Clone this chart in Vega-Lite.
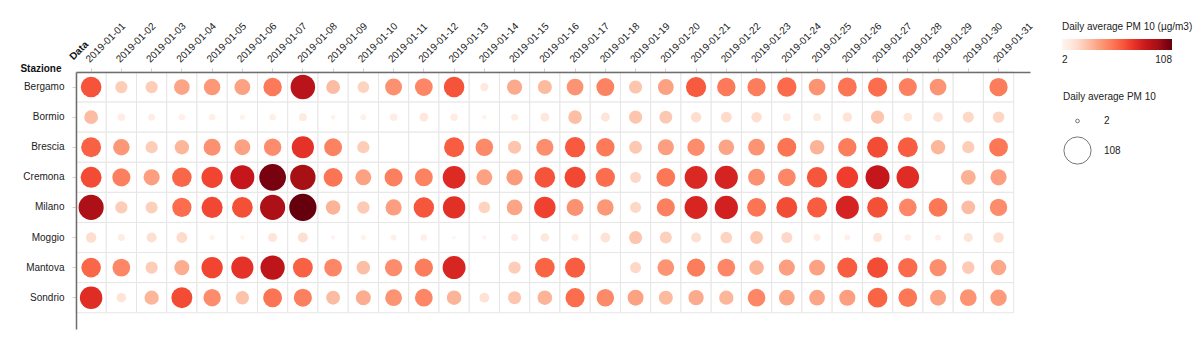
{
  "$schema": "https://vega.github.io/schema/vega-lite/v6.json",
  "autosize": {"type": "none"},
  "width": 954,
  "height": 257,
  "padding": {"left": 76, "top": 72, "right": 170, "bottom": 33},
  "background": "white",
  "config": {
    "font": "Liberation Sans",
    "view": {"stroke": null},
    "axis": {"labelFont": "Liberation Sans", "titleFont": "Liberation Sans", "labelFontSize": 10, "titleFontSize": 10, "labelColor": "#222", "titleColor": "#111"},
    "legend": {"labelFont": "Liberation Sans", "titleFont": "Liberation Sans", "labelFontSize": 10, "titleFontSize": 10, "titleFontWeight": "normal", "labelColor": "#222", "titleColor": "#222"}
  },
  "data": {"values": [
{"s":"Bergamo","d":"2019-01-01","v":62},{"s":"Bergamo","d":"2019-01-02","v":22},{"s":"Bergamo","d":"2019-01-03","v":22},{"s":"Bergamo","d":"2019-01-04","v":36},{"s":"Bergamo","d":"2019-01-05","v":40},{"s":"Bergamo","d":"2019-01-06","v":37},{"s":"Bergamo","d":"2019-01-07","v":50},{"s":"Bergamo","d":"2019-01-08","v":88},{"s":"Bergamo","d":"2019-01-09","v":28},{"s":"Bergamo","d":"2019-01-10","v":20},{"s":"Bergamo","d":"2019-01-11","v":42},{"s":"Bergamo","d":"2019-01-12","v":46},{"s":"Bergamo","d":"2019-01-13","v":62},{"s":"Bergamo","d":"2019-01-14","v":10},{"s":"Bergamo","d":"2019-01-15","v":34},{"s":"Bergamo","d":"2019-01-16","v":29},{"s":"Bergamo","d":"2019-01-17","v":41},{"s":"Bergamo","d":"2019-01-18","v":47},{"s":"Bergamo","d":"2019-01-19","v":25},{"s":"Bergamo","d":"2019-01-20","v":37},{"s":"Bergamo","d":"2019-01-21","v":60},{"s":"Bergamo","d":"2019-01-22","v":50},{"s":"Bergamo","d":"2019-01-23","v":49},{"s":"Bergamo","d":"2019-01-24","v":55},{"s":"Bergamo","d":"2019-01-25","v":41},{"s":"Bergamo","d":"2019-01-26","v":52},{"s":"Bergamo","d":"2019-01-27","v":54},{"s":"Bergamo","d":"2019-01-28","v":48},{"s":"Bergamo","d":"2019-01-29","v":41},{"s":"Bergamo","d":"2019-01-30","v":null},{"s":"Bergamo","d":"2019-01-31","v":49},
{"s":"Bormio","d":"2019-01-01","v":28},{"s":"Bormio","d":"2019-01-02","v":8},{"s":"Bormio","d":"2019-01-03","v":7},{"s":"Bormio","d":"2019-01-04","v":6},{"s":"Bormio","d":"2019-01-05","v":6},{"s":"Bormio","d":"2019-01-06","v":4},{"s":"Bormio","d":"2019-01-07","v":6},{"s":"Bormio","d":"2019-01-08","v":9},{"s":"Bormio","d":"2019-01-09","v":3},{"s":"Bormio","d":"2019-01-10","v":5},{"s":"Bormio","d":"2019-01-11","v":8},{"s":"Bormio","d":"2019-01-12","v":11},{"s":"Bormio","d":"2019-01-13","v":8},{"s":"Bormio","d":"2019-01-14","v":3},{"s":"Bormio","d":"2019-01-15","v":7},{"s":"Bormio","d":"2019-01-16","v":11},{"s":"Bormio","d":"2019-01-17","v":27},{"s":"Bormio","d":"2019-01-18","v":12},{"s":"Bormio","d":"2019-01-19","v":25},{"s":"Bormio","d":"2019-01-20","v":24},{"s":"Bormio","d":"2019-01-21","v":16},{"s":"Bormio","d":"2019-01-22","v":17},{"s":"Bormio","d":"2019-01-23","v":16},{"s":"Bormio","d":"2019-01-24","v":9},{"s":"Bormio","d":"2019-01-25","v":9},{"s":"Bormio","d":"2019-01-26","v":13},{"s":"Bormio","d":"2019-01-27","v":25},{"s":"Bormio","d":"2019-01-28","v":11},{"s":"Bormio","d":"2019-01-29","v":14},{"s":"Bormio","d":"2019-01-30","v":18},{"s":"Bormio","d":"2019-01-31","v":19},
{"s":"Brescia","d":"2019-01-01","v":58},{"s":"Brescia","d":"2019-01-02","v":40},{"s":"Brescia","d":"2019-01-03","v":22},{"s":"Brescia","d":"2019-01-04","v":30},{"s":"Brescia","d":"2019-01-05","v":42},{"s":"Brescia","d":"2019-01-06","v":37},{"s":"Brescia","d":"2019-01-07","v":44},{"s":"Brescia","d":"2019-01-08","v":72},{"s":"Brescia","d":"2019-01-09","v":47},{"s":"Brescia","d":"2019-01-10","v":22},{"s":"Brescia","d":"2019-01-11","v":null},{"s":"Brescia","d":"2019-01-12","v":null},{"s":"Brescia","d":"2019-01-13","v":59},{"s":"Brescia","d":"2019-01-14","v":45},{"s":"Brescia","d":"2019-01-15","v":25},{"s":"Brescia","d":"2019-01-16","v":43},{"s":"Brescia","d":"2019-01-17","v":60},{"s":"Brescia","d":"2019-01-18","v":50},{"s":"Brescia","d":"2019-01-19","v":24},{"s":"Brescia","d":"2019-01-20","v":38},{"s":"Brescia","d":"2019-01-21","v":44},{"s":"Brescia","d":"2019-01-22","v":36},{"s":"Brescia","d":"2019-01-23","v":41},{"s":"Brescia","d":"2019-01-24","v":52},{"s":"Brescia","d":"2019-01-25","v":31},{"s":"Brescia","d":"2019-01-26","v":49},{"s":"Brescia","d":"2019-01-27","v":64},{"s":"Brescia","d":"2019-01-28","v":59},{"s":"Brescia","d":"2019-01-29","v":30},{"s":"Brescia","d":"2019-01-30","v":22},{"s":"Brescia","d":"2019-01-31","v":51},
{"s":"Cremona","d":"2019-01-01","v":64},{"s":"Cremona","d":"2019-01-02","v":48},{"s":"Cremona","d":"2019-01-03","v":38},{"s":"Cremona","d":"2019-01-04","v":56},{"s":"Cremona","d":"2019-01-05","v":66},{"s":"Cremona","d":"2019-01-06","v":84},{"s":"Cremona","d":"2019-01-07","v":104},{"s":"Cremona","d":"2019-01-08","v":94},{"s":"Cremona","d":"2019-01-09","v":52},{"s":"Cremona","d":"2019-01-10","v":37},{"s":"Cremona","d":"2019-01-11","v":48},{"s":"Cremona","d":"2019-01-12","v":47},{"s":"Cremona","d":"2019-01-13","v":75},{"s":"Cremona","d":"2019-01-14","v":37},{"s":"Cremona","d":"2019-01-15","v":39},{"s":"Cremona","d":"2019-01-16","v":62},{"s":"Cremona","d":"2019-01-17","v":65},{"s":"Cremona","d":"2019-01-18","v":54},{"s":"Cremona","d":"2019-01-19","v":18},{"s":"Cremona","d":"2019-01-20","v":51},{"s":"Cremona","d":"2019-01-21","v":76},{"s":"Cremona","d":"2019-01-22","v":78},{"s":"Cremona","d":"2019-01-23","v":42},{"s":"Cremona","d":"2019-01-24","v":46},{"s":"Cremona","d":"2019-01-25","v":61},{"s":"Cremona","d":"2019-01-26","v":68},{"s":"Cremona","d":"2019-01-27","v":84},{"s":"Cremona","d":"2019-01-28","v":74},{"s":"Cremona","d":"2019-01-29","v":null},{"s":"Cremona","d":"2019-01-30","v":32},{"s":"Cremona","d":"2019-01-31","v":38},
{"s":"Milano","d":"2019-01-01","v":92},{"s":"Milano","d":"2019-01-02","v":22},{"s":"Milano","d":"2019-01-03","v":21},{"s":"Milano","d":"2019-01-04","v":54},{"s":"Milano","d":"2019-01-05","v":65},{"s":"Milano","d":"2019-01-06","v":63},{"s":"Milano","d":"2019-01-07","v":92},{"s":"Milano","d":"2019-01-08","v":108},{"s":"Milano","d":"2019-01-09","v":31},{"s":"Milano","d":"2019-01-10","v":23},{"s":"Milano","d":"2019-01-11","v":38},{"s":"Milano","d":"2019-01-12","v":61},{"s":"Milano","d":"2019-01-13","v":73},{"s":"Milano","d":"2019-01-14","v":20},{"s":"Milano","d":"2019-01-15","v":36},{"s":"Milano","d":"2019-01-16","v":67},{"s":"Milano","d":"2019-01-17","v":42},{"s":"Milano","d":"2019-01-18","v":40},{"s":"Milano","d":"2019-01-19","v":18},{"s":"Milano","d":"2019-01-20","v":48},{"s":"Milano","d":"2019-01-21","v":77},{"s":"Milano","d":"2019-01-22","v":79},{"s":"Milano","d":"2019-01-23","v":52},{"s":"Milano","d":"2019-01-24","v":64},{"s":"Milano","d":"2019-01-25","v":59},{"s":"Milano","d":"2019-01-26","v":78},{"s":"Milano","d":"2019-01-27","v":63},{"s":"Milano","d":"2019-01-28","v":46},{"s":"Milano","d":"2019-01-29","v":51},{"s":"Milano","d":"2019-01-30","v":28},{"s":"Milano","d":"2019-01-31","v":44},
{"s":"Moggio","d":"2019-01-01","v":16},{"s":"Moggio","d":"2019-01-02","v":7},{"s":"Moggio","d":"2019-01-03","v":15},{"s":"Moggio","d":"2019-01-04","v":17},{"s":"Moggio","d":"2019-01-05","v":4},{"s":"Moggio","d":"2019-01-06","v":3},{"s":"Moggio","d":"2019-01-07","v":12},{"s":"Moggio","d":"2019-01-08","v":15},{"s":"Moggio","d":"2019-01-09","v":3},{"s":"Moggio","d":"2019-01-10","v":4},{"s":"Moggio","d":"2019-01-11","v":5},{"s":"Moggio","d":"2019-01-12","v":6},{"s":"Moggio","d":"2019-01-13","v":2},{"s":"Moggio","d":"2019-01-14","v":3},{"s":"Moggio","d":"2019-01-15","v":7},{"s":"Moggio","d":"2019-01-16","v":11},{"s":"Moggio","d":"2019-01-17","v":7},{"s":"Moggio","d":"2019-01-18","v":14},{"s":"Moggio","d":"2019-01-19","v":25},{"s":"Moggio","d":"2019-01-20","v":21},{"s":"Moggio","d":"2019-01-21","v":15},{"s":"Moggio","d":"2019-01-22","v":20},{"s":"Moggio","d":"2019-01-23","v":24},{"s":"Moggio","d":"2019-01-24","v":18},{"s":"Moggio","d":"2019-01-25","v":7},{"s":"Moggio","d":"2019-01-26","v":5},{"s":"Moggio","d":"2019-01-27","v":12},{"s":"Moggio","d":"2019-01-28","v":6},{"s":"Moggio","d":"2019-01-29","v":5},{"s":"Moggio","d":"2019-01-30","v":12},{"s":"Moggio","d":"2019-01-31","v":16},
{"s":"Mantova","d":"2019-01-01","v":56},{"s":"Mantova","d":"2019-01-02","v":46},{"s":"Mantova","d":"2019-01-03","v":22},{"s":"Mantova","d":"2019-01-04","v":33},{"s":"Mantova","d":"2019-01-05","v":66},{"s":"Mantova","d":"2019-01-06","v":72},{"s":"Mantova","d":"2019-01-07","v":86},{"s":"Mantova","d":"2019-01-08","v":58},{"s":"Mantova","d":"2019-01-09","v":46},{"s":"Mantova","d":"2019-01-10","v":27},{"s":"Mantova","d":"2019-01-11","v":44},{"s":"Mantova","d":"2019-01-12","v":49},{"s":"Mantova","d":"2019-01-13","v":77},{"s":"Mantova","d":"2019-01-14","v":null},{"s":"Mantova","d":"2019-01-15","v":22},{"s":"Mantova","d":"2019-01-16","v":57},{"s":"Mantova","d":"2019-01-17","v":59},{"s":"Mantova","d":"2019-01-18","v":null},{"s":"Mantova","d":"2019-01-19","v":18},{"s":"Mantova","d":"2019-01-20","v":41},{"s":"Mantova","d":"2019-01-21","v":49},{"s":"Mantova","d":"2019-01-22","v":46},{"s":"Mantova","d":"2019-01-23","v":31},{"s":"Mantova","d":"2019-01-24","v":38},{"s":"Mantova","d":"2019-01-25","v":37},{"s":"Mantova","d":"2019-01-26","v":59},{"s":"Mantova","d":"2019-01-27","v":64},{"s":"Mantova","d":"2019-01-28","v":55},{"s":"Mantova","d":"2019-01-29","v":43},{"s":"Mantova","d":"2019-01-30","v":23},{"s":"Mantova","d":"2019-01-31","v":35},
{"s":"Sondrio","d":"2019-01-01","v":74},{"s":"Sondrio","d":"2019-01-02","v":13},{"s":"Sondrio","d":"2019-01-03","v":30},{"s":"Sondrio","d":"2019-01-04","v":64},{"s":"Sondrio","d":"2019-01-05","v":44},{"s":"Sondrio","d":"2019-01-06","v":26},{"s":"Sondrio","d":"2019-01-07","v":52},{"s":"Sondrio","d":"2019-01-08","v":48},{"s":"Sondrio","d":"2019-01-09","v":28},{"s":"Sondrio","d":"2019-01-10","v":33},{"s":"Sondrio","d":"2019-01-11","v":41},{"s":"Sondrio","d":"2019-01-12","v":46},{"s":"Sondrio","d":"2019-01-13","v":31},{"s":"Sondrio","d":"2019-01-14","v":14},{"s":"Sondrio","d":"2019-01-15","v":25},{"s":"Sondrio","d":"2019-01-16","v":31},{"s":"Sondrio","d":"2019-01-17","v":54},{"s":"Sondrio","d":"2019-01-18","v":45},{"s":"Sondrio","d":"2019-01-19","v":37},{"s":"Sondrio","d":"2019-01-20","v":29},{"s":"Sondrio","d":"2019-01-21","v":34},{"s":"Sondrio","d":"2019-01-22","v":30},{"s":"Sondrio","d":"2019-01-23","v":46},{"s":"Sondrio","d":"2019-01-24","v":36},{"s":"Sondrio","d":"2019-01-25","v":36},{"s":"Sondrio","d":"2019-01-26","v":38},{"s":"Sondrio","d":"2019-01-27","v":57},{"s":"Sondrio","d":"2019-01-28","v":51},{"s":"Sondrio","d":"2019-01-29","v":37},{"s":"Sondrio","d":"2019-01-30","v":41},{"s":"Sondrio","d":"2019-01-31","v":39}
  ]},
  "encoding": {
    "x": {
      "field": "d", "type": "ordinal",
      "scale": {"paddingInner": 0, "paddingOuter": 0.27, "align": 0},
      "axis": {
        "orient": "top", "labelAngle": -45, "labelPadding": 4,
        "title": "Data", "titleAngle": 315, "titleFontWeight": "bold", "titleAlign": "left", "titleBaseline": "alphabetic",
        "titleX": -3, "titleY": -12,
        "domainColor": "#6e6e6e", "domainWidth": 1.5, "tickColor": "#d0d0d0", "tickSize": 4, "grid": false, "zindex": 1
      }
    },
    "y": {
      "field": "s", "type": "ordinal",
      "sort": ["Bergamo", "Bormio", "Brescia", "Cremona", "Milano", "Moggio", "Mantova", "Sondrio"],
      "scale": {"paddingInner": 0, "paddingOuter": 0.27, "align": 0},
      "axis": {
        "orient": "left", "labelPadding": 8,
        "title": "Stazione", "titleAngle": 0, "titleFontWeight": "bold", "titleAlign": "right", "titleBaseline": "alphabetic",
        "titleX": -15, "titleY": -1,
        "domainColor": "#6e6e6e", "domainWidth": 1.5, "tickColor": "#d0d0d0", "tickSize": 4, "grid": false, "zindex": 1
      }
    }
  },
  "layer": [
    {
      "mark": {"type": "rect", "fill": "white", "stroke": "#e6e6e6", "strokeWidth": 1}
    },
    {
      "transform": [{"filter": "datum.v != null"}],
      "mark": {"type": "circle", "opacity": 1},
      "encoding": {
        "color": {
          "field": "v", "type": "quantitative",
          "scale": {
            "domain": [2, 15.25, 28.5, 41.75, 55, 68.25, 81.5, 94.75, 108],
            "range": ["#fff5f0", "#fee0d2", "#fcbba1", "#fc9272", "#fb6a4a", "#ef3b2c", "#cb181d", "#a50f15", "#67000d"]
          },
          "legend": {
            "title": "Daily average PM 10 (µg/m3)", "orient": "none", "legendX": 986, "legendY": -50,
            "direction": "horizontal", "gradientLength": 110, "gradientThickness": 11, "gradientStrokeWidth": 0,
            "values": [2, 108], "padding": 0, "titlePadding": 7, "labelOffset": 5
          }
        },
        "size": {
          "field": "v", "type": "quantitative",
          "scale": {"zero": true, "nice": false, "range": [0, 740]},
          "legend": {
            "title": "Daily average PM 10", "orient": "none", "legendX": 987, "legendY": 20,
            "values": [2, 108], "padding": 0, "titlePadding": 14, "rowPadding": 8, "columns": 1, "labelOffset": 12,
            "symbolStrokeColor": "#777", "symbolStrokeWidth": 1, "symbolFillColor": "transparent",
            "encode": {"symbols": {"update": {"fill": {"value": "transparent"}, "stroke": {"value": "#777"}, "opacity": {"value": 1}}}}
          }
        }
      }
    }
  ]
}
